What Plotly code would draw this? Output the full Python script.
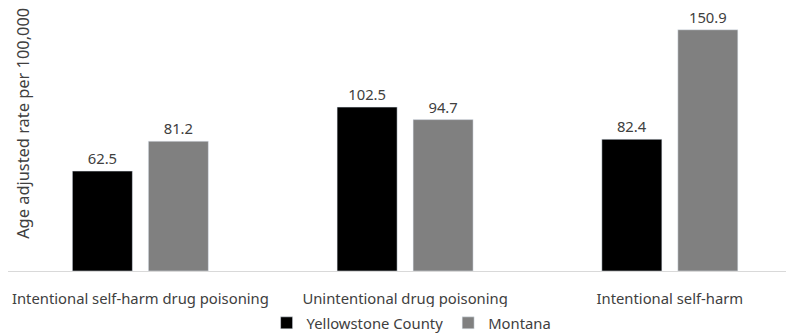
import plotly.graph_objects as go

categories = ["Intentional self-harm drug poisoning", "Unintentional drug poisoning", "Intentional self-harm"]
yellowstone = [62.5, 102.5, 82.4]
montana = [81.2, 94.7, 150.9]
series_names = ["Yellowstone County", "Montana"]
y_title = "Age adjusted rate per 100,000"

FONT = "Noto Sans"
FS = 14.8
TXT = "#404040"
fig = go.Figure()
fig.add_trace(go.Bar(x=categories, y=yellowstone, name=series_names[0], marker=dict(color="#000000"),
                     text=[f"{v:.1f}" for v in yellowstone], textposition="outside",
                     textfont=dict(family=FONT, size=FS, color=TXT), cliponaxis=False))
fig.add_trace(go.Bar(x=categories, y=montana, name=series_names[1], marker=dict(color="#808080"),
                     text=[f"{v:.1f}" for v in montana], textposition="outside",
                     textfont=dict(family=FONT, size=FS, color=TXT), cliponaxis=False))

fig.update_layout(
    width=786, height=327,
    margin=dict(l=0, r=0, t=0, b=64, autoexpand=False),
    paper_bgcolor="white", plot_bgcolor="white",
    barmode="group", bargap=0.426, bargroupgap=0.21,
    font=dict(family=FONT, size=FS, color=TXT),
    showlegend=True,
    legend=dict(orientation="h", x=0.329, xanchor="left", yref="container", y=0.036, yanchor="middle",
                font=dict(family=FONT, size=FS, color=TXT), itemwidth=30,
                traceorder="normal"),
    xaxis=dict(range=[-0.5, 2.469], showline=True, linecolor="#d9d9d9", linewidth=1,
               ticks="", showgrid=False, tickfont=dict(family=FONT, size=FS, color=TXT),
               ticklabelstandoff=14, automargin=False),
    yaxis=dict(range=[0, 164.5], showgrid=False, showticklabels=False, zeroline=False,
               showline=False, ticks="", automargin=False),
    annotations=[dict(text=y_title, xref="paper", yref="paper", x=0.019, y=0.563,
                      xanchor="center", yanchor="middle", textangle=-90, showarrow=False,
                      font=dict(family=FONT, size=16.4, color=TXT))],
)
fig.write_html("out.html")
